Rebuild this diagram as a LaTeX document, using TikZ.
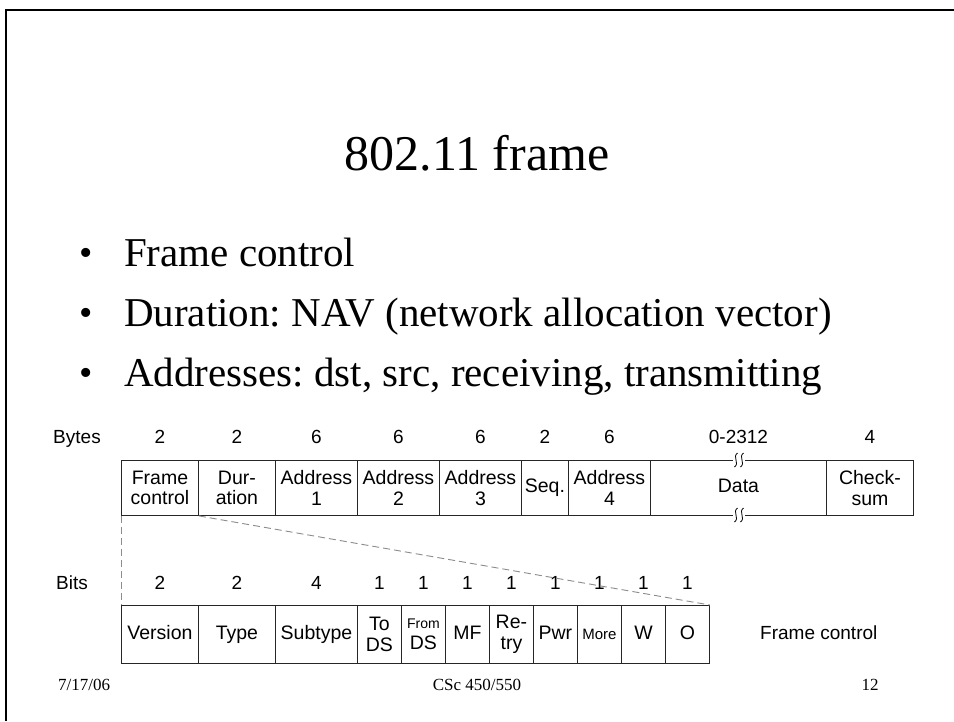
\documentclass[tikz,border=0pt]{standalone}
\usepackage{fontspec}
\setmainfont{Liberation Serif}
\newfontfamily\hv{Liberation Sans}
\begin{document}
\frenchspacing
\begin{tikzpicture}[x=1pt,y=-1pt]
\tikzset{
  fld/.style={draw=black!85, line width=0.9pt, inner sep=0pt, align=center, anchor=north west,
    font=\hv\fontsize{19.5}{20.5}\selectfont},
  one/.style={text height=14pt, text depth=4pt},
  num/.style={anchor=base, inner sep=0pt, font=\hv\fontsize{19}{20}\selectfont},
  bul/.style={anchor=base west, inner sep=0pt, font=\fontsize{41}{45}\selectfont},
  dot/.style={anchor=base west, inner sep=0pt, font=\fontsize{38}{40}\selectfont},
  foot/.style={anchor=base, inner sep=0pt, font=\fontsize{17}{19}\selectfont},
  dashln/.style={draw=black!45, dashed, dash pattern=on 7pt off 4pt, line width=0.9pt},
  squig/.style={draw=black, line width=0.8pt},
}
\useasboundingbox (0,0) rectangle (954,721);
\fill[white] (0,0) rectangle (954,721);
% slide border
\draw[line width=2.6pt] (6,721) -- (6,10) -- (954,10);
% title
\node[anchor=base, inner sep=0pt, font=\fontsize{50}{54}\selectfont] (title) at (477,170) {802.11 frame};
% bullets
\node[dot] (b1d) at (79,265) {\textbullet};
\node[bul] (b1) at (124,266) {Frame control};
\node[dot] (b2d) at (79,325) {\textbullet};
\node[bul] (b2) at (124,326) {Duration: NAV (network allocation vector)};
\node[dot] (b3d) at (79,385) {\textbullet};
\node[bul] (b3) at (124,386) {Addresses: dst, src, receiving, transmitting};
% top row
\def\ty{460}\def\th{55}
\node[fld, minimum width=77pt, minimum height=\th pt] (fc) at (121,\ty) {Frame\\control};
\node[fld, minimum width=77pt, minimum height=\th pt] (dur) at (198,\ty) {Dur-\\ation};
\node[fld, minimum width=82pt, minimum height=\th pt] (a1) at (275,\ty) {Address\\1};
\node[fld, minimum width=82pt, minimum height=\th pt] (a2) at (357,\ty) {Address\\2};
\node[fld, minimum width=82pt, minimum height=\th pt] (a3) at (439,\ty) {Address\\3};
\node[fld, one, minimum width=47pt, minimum height=\th pt] (seq) at (521,\ty) {Seq.};
\node[fld, minimum width=82pt, minimum height=\th pt] (a4) at (568,\ty) {Address\\4};
\node[fld, one, minimum width=176pt, minimum height=\th pt] (data) at (650,\ty) {Data};
\node[fld, minimum width=87pt, minimum height=\th pt] (cs) at (826,\ty) {Check-\\sum};
% byte counts
\def\by{443}
\node[num, anchor=base] (bytes) at (77,\by) {Bytes};
\node[num] (nfc) at (fc.center |- 0,\by) {2};
\node[num] (ndur) at (dur.center |- 0,\by) {2};
\node[num] (na1) at (a1.center |- 0,\by) {6};
\node[num] (na2) at (a2.center |- 0,\by) {6};
\node[num] (na3) at (a3.center |- 0,\by) {6};
\node[num] (nseq) at (seq.center |- 0,\by) {2};
\node[num] (na4) at (a4.center |- 0,\by) {6};
\node[num] (ndata) at (data.center |- 0,\by) {0-2312};
\node[num] (ncs) at (cs.center |- 0,\by) {4};
% break marks on data box
\foreach \yy in {460,515}{
  \fill[white] (733,\yy-1.5) rectangle (745,\yy+1.5);
  \foreach \xx in {736,742}{
    \draw[squig] (\xx+1.5,\yy-7) .. controls (\xx-4,\yy-3) and (\xx+4,\yy+3) .. (\xx-1.5,\yy+7);
  }
}
% bottom row
\def\uy{605}\def\uh{58}
\node[fld, one, minimum width=77pt, minimum height=\uh pt] (ver) at (121,\uy) {Version};
\node[fld, one, minimum width=77pt, minimum height=\uh pt] (typ) at (198,\uy) {Type};
\node[fld, one, minimum width=82pt, minimum height=\uh pt] (sub) at (275,\uy) {Subtype};
\node[fld, minimum width=44pt, minimum height=\uh pt] (tods) at (357,\uy) {To\\DS};
\node[fld, minimum width=44pt, minimum height=\uh pt] (fromds) at (401,\uy) {{\fontsize{14}{15}\selectfont From}\\DS};
\node[fld, one, minimum width=44pt, minimum height=\uh pt] (mf) at (445,\uy) {MF};
\node[fld, minimum width=44pt, minimum height=\uh pt] (retry) at (489,\uy) {Re-\\try};
\node[fld, one, minimum width=44pt, minimum height=\uh pt] (pwr) at (533,\uy) {Pwr};
\node[fld, one, minimum width=44pt, minimum height=\uh pt, font=\hv\fontsize{15}{16}\selectfont] (more) at (577,\uy) {More};
\node[fld, one, minimum width=44pt, minimum height=\uh pt] (w) at (621,\uy) {W};
\node[fld, one, minimum width=44pt, minimum height=\uh pt] (o) at (665,\uy) {O};
\node[num, anchor=west] (fclab) at (760,633) {Frame control};
% bit counts
\def\bby{589}
\node[num] (bits) at (72,\bby) {Bits};
\node[num] (nver) at (ver.center |- 0,\bby) {2};
\node[num] (ntyp) at (typ.center |- 0,\bby) {2};
\node[num] (nsub) at (sub.center |- 0,\bby) {4};
\foreach \n in {tods,fromds,mf,retry,pwr,more,w,o}{
  \node[num] (n\n) at (\n.center |- 0,\bby) {1};
}
% dashed expansion lines
\draw[dashln] (fc.south west) -- (ver.north west);
\draw[dashln] (fc.south east) -- (o.north east);
% footer
\node[foot, anchor=base west] (date) at (58,690) {7/17/06};
\node[foot] (course) at (477,690) {CSc 450/550};
\node[foot] (page) at (870,690) {12};
\end{tikzpicture}
\end{document}
